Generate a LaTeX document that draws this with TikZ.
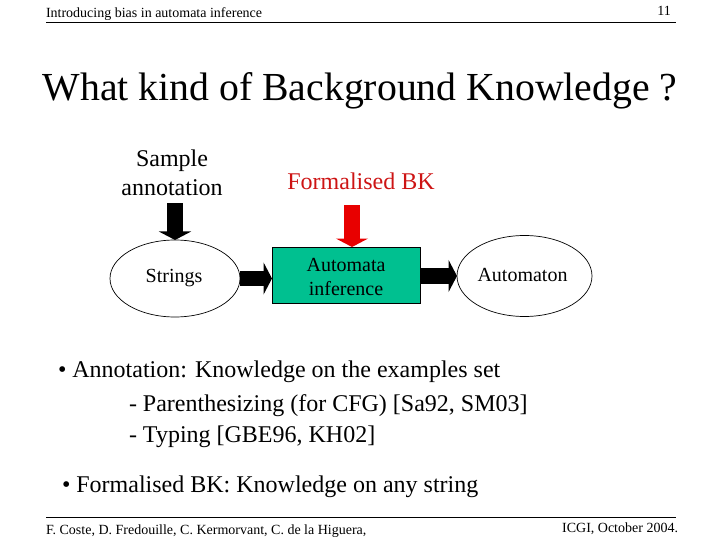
\documentclass[tikz,border=0pt]{standalone}
\usepackage{fontspec}
\setmainfont{Liberation Serif}
\usetikzlibrary{arrows.meta,shapes.geometric}
\definecolor{boxgreen}{RGB}{0,192,144}
\definecolor{bkred}{RGB}{232,0,0}
\definecolor{bktext}{RGB}{205,20,20}
\tikzset{
  every node/.style={inner sep=0pt,outer sep=0pt,text=black},
  header/.style={font=\fontsize{14}{15}\selectfont},
  title/.style={font=\fontsize{39.75}{44}\selectfont},
  diagram/.style={font=\fontsize{24}{29}\selectfont,align=center},
  small/.style={font=\fontsize{20}{24}\selectfont,align=center},
  bullet/.style={font=\fontsize{24}{31}\selectfont,align=left},
  state/.style={draw=black,line width=0.7pt,ellipse,fill=white},
  process/.style={draw=black,line width=0.8pt,fill=boxgreen},
  blockarrow/.style={line width=15.5pt,-{Triangle[length=8.5pt,width=32pt]}},
  rule/.style={draw=black,line width=0.6pt}
}
\begin{document}
\begin{tikzpicture}[x=1pt,y=-1pt]
\useasboundingbox (0,0) rectangle (720,540);
\node[header,anchor=west] (head) at (46,14) {Introducing bias in automata inference};
\node[header] (num) at (664,11) {11};
\draw[rule] (46,22.5) -- (676,22.5);
\node[title] (title) at (360,91) {What kind of Background Knowledge ?};

\node[diagram] (sample) at (172,172.5) {Sample\\annotation};
\node[diagram,text=bktext] (formal) at (361,181) {Formalised BK};

\node[state,minimum width=130pt,minimum height=77pt] (strings) at (175,278.5) {};
\node[small] (stringstext) at (174,278) {Strings};
\node[process,minimum width=148pt,minimum height=56pt] (infer) at (346,275) {};
\node[small] (infertext) at (346,276.5) {Automata\\inference};
\node[state,minimum width=135pt,minimum height=81pt] (automaton) at (524.5,276) {};
\node[small] (automatontext) at (522.5,274.5) {Automaton};

\coordinate (redtip) at ([xshift=6pt]infer.north);
\draw[blockarrow,black,shorten <=8pt] (strings.north |- sample.south) -- (strings.north);
\draw[blockarrow,bkred,shorten <=16pt] (formal.south -| redtip) -- (redtip);
\draw[blockarrow,black] (strings.east) -- (strings.east -| infer.west);
\draw[blockarrow,black] (infer.east |- automaton.west) -- (automaton.west);

\node[bullet,anchor=north west] (b1) at (58,361) {• Annotation: Knowledge on the examples set};
\node[bullet,anchor=north west] (b2) at (129,395) {- Parenthesizing (for CFG) [Sa92, SM03]\\- Typing [GBE96, KH02]};
\node[bullet,anchor=north west] (b3) at (62,476) {• Formalised BK: Knowledge on any string};

\draw[rule] (46,517.5) -- (676,517.5);
\node[header,anchor=west] (foot) at (46,531) {F. Coste, D. Fredouille, C. Kermorvant, C. de la Higuera,};
\node[header,anchor=east] (foot2) at (678,529) {ICGI, October 2004.};
\end{tikzpicture}
\end{document}
